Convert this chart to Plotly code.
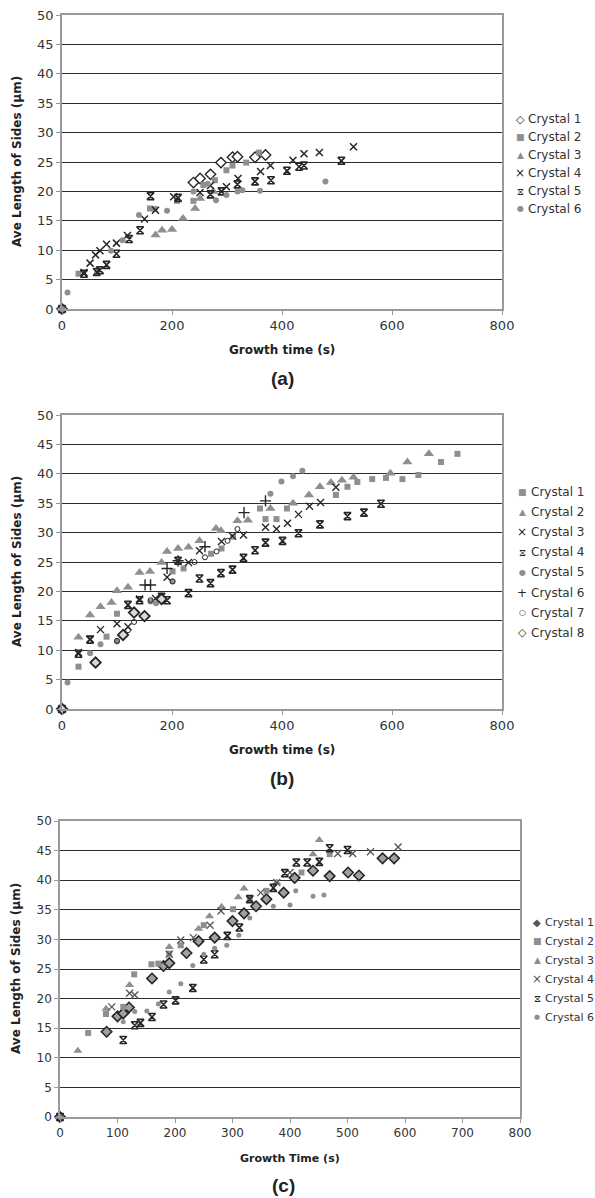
import plotly.graph_objects as go

W, H = 595, 1198

# ---------------- Panel (a) data ----------------
a_names = ["Crystal 1", "Crystal 2", "Crystal 3", "Crystal 4", "Crystal 5", "Crystal 6"]
a1_t = [0, 239, 251, 270, 289, 310, 319, 351, 370]
a1_L = [0, 21.5, 22.2, 22.9, 24.9, 25.8, 25.9, 25.8, 26.2]
a2_t = [0, 30, 64, 160, 168, 209, 239, 257, 278, 299, 310, 335, 358]
a2_L = [0, 6.0, 6.3, 17.1, 17.0, 18.4, 18.4, 21.1, 21.9, 23.6, 24.4, 24.9, 26.6]
a3_t = [0, 170, 182, 200, 220, 242, 251, 275]
a3_L = [0, 12.6, 13.4, 13.5, 15.4, 17.1, 18.8, 20.0]
a4_t = [0, 40, 51, 61, 69, 81, 99, 119, 150, 170, 203, 251, 270, 299, 320, 361, 379, 420, 440, 468, 530]
a4_L = [0, 6.2, 7.8, 9.2, 9.9, 11.0, 11.2, 12.5, 15.3, 16.8, 19.1, 19.8, 21.0, 20.8, 22.2, 23.4, 24.4, 25.3, 26.4, 26.6, 27.6]
a5_t = [0, 40, 63, 69, 81, 99, 122, 142, 161, 211, 270, 290, 319, 351, 380, 409, 431, 440, 508]
a5_L = [0, 6.0, 6.3, 6.6, 7.5, 9.4, 11.9, 13.4, 19.2, 18.9, 19.5, 20.0, 21.2, 21.7, 21.9, 23.5, 24.2, 24.4, 25.2]
a6_t = [0, 10, 89, 110, 140, 191, 239, 265, 280, 299, 319, 328, 360, 479]
a6_L = [0, 2.8, 9.9, 11.7, 16.0, 16.7, 20.0, 21.3, 18.5, 19.4, 20.0, 20.2, 20.1, 21.7]

# ---------------- Panel (b) data ----------------
b_names = ["Crystal 1", "Crystal 2", "Crystal 3", "Crystal 4", "Crystal 5", "Crystal 6", "Crystal 7", "Crystal 8"]
b1_t = [0, 30, 81, 100, 201, 221, 271, 290, 311, 360, 370, 390, 409, 498, 519, 537, 564, 589, 619, 648, 689, 719]
b1_L = [0, 7.2, 12.3, 16.2, 23.4, 23.9, 26.4, 27.3, 29.3, 34.1, 32.3, 32.3, 34.1, 36.4, 37.8, 38.6, 39.1, 39.3, 39.1, 39.8, 42.0, 43.4]
b2_t = [0, 30, 51, 70, 90, 100, 120, 141, 160, 181, 191, 211, 230, 250, 280, 289, 319, 338, 379, 420, 449, 469, 489, 509, 530, 597, 628, 667]
b2_L = [0, 12.2, 16.0, 17.4, 18.1, 20.1, 20.7, 23.2, 23.4, 24.9, 26.8, 27.3, 27.5, 28.6, 30.7, 30.3, 32.0, 32.1, 34.1, 35.0, 36.4, 37.8, 38.5, 38.9, 39.4, 40.1, 42.0, 43.4]
b3_t = [0, 30, 51, 70, 100, 120, 141, 170, 191, 230, 250, 290, 310, 330, 370, 390, 410, 430, 450, 470, 498]
b3_L = [0, 9.6, 11.9, 13.5, 14.5, 14.0, 18.7, 18.8, 22.4, 24.9, 26.9, 28.5, 29.4, 29.6, 30.9, 30.6, 31.6, 33.1, 34.5, 35.1, 37.7]
b4_t = [0, 30, 51, 120, 141, 181, 191, 211, 230, 250, 270, 289, 310, 330, 351, 370, 401, 430, 469, 519, 549, 580]
b4_L = [0, 9.4, 11.8, 17.7, 18.5, 19.1, 18.5, 25.2, 19.7, 22.2, 21.4, 23.1, 23.7, 25.7, 27.0, 28.3, 28.6, 29.9, 31.4, 32.8, 33.4, 34.9]
b5_t = [0, 10, 51, 70, 100, 161, 171, 201, 379, 399, 420, 437]
b5_L = [0, 4.5, 9.5, 11.0, 11.5, 18.3, 18.0, 21.7, 36.6, 38.7, 39.6, 40.5]
b6_t = [0, 151, 161, 191, 211, 260, 331, 370]
b6_L = [0, 21.1, 21.1, 23.9, 25.2, 27.6, 33.4, 35.4]
b7_t = [0, 100, 120, 131, 161, 201, 241, 260, 281, 301, 319]
b7_L = [0, 11.6, 13.4, 14.8, 18.5, 21.7, 25.0, 25.8, 26.8, 28.6, 30.6]
b8_t = [0, 61, 111, 131, 150, 181]
b8_L = [0, 7.9, 12.6, 16.4, 15.8, 18.7]

# ---------------- Panel (c) data ----------------
c_names = ["Crystal 1", "Crystal 2", "Crystal 3", "Crystal 4", "Crystal 5", "Crystal 6"]
c1_t = [0, 81, 100, 110, 120, 160, 180, 190, 220, 241, 269, 300, 320, 341, 359, 389, 408, 440, 469, 501, 520, 561, 581]
c1_L = [0, 14.4, 17.0, 17.5, 18.5, 23.4, 25.5, 26.0, 27.7, 29.7, 30.3, 33.1, 34.4, 35.6, 36.8, 37.9, 40.4, 41.6, 40.7, 41.3, 40.8, 43.7, 43.7]
c2_t = [0, 49, 80, 110, 129, 159, 171, 190, 210, 250, 301, 330, 359, 420, 469]
c2_L = [0, 14.2, 17.4, 18.6, 24.1, 25.8, 25.9, 27.6, 29.0, 32.4, 35.1, 36.8, 38.2, 41.3, 44.4]
c3_t = [0, 31, 80, 121, 190, 241, 260, 281, 310, 320, 377, 440, 451]
c3_L = [0, 11.2, 18.3, 22.3, 28.7, 31.8, 33.9, 35.5, 37.1, 38.6, 39.6, 44.4, 46.8]
c4_t = [0, 90, 121, 130, 190, 210, 232, 261, 280, 349, 377, 400, 483, 509, 540, 588]
c4_L = [0, 18.6, 20.9, 20.6, 27.5, 29.9, 30.3, 32.4, 34.8, 37.9, 39.6, 41.3, 44.5, 44.5, 44.8, 45.6]
c5_t = [0, 110, 130, 140, 160, 180, 201, 231, 250, 269, 291, 312, 330, 371, 391, 411, 430, 451, 469, 500]
c5_L = [0, 13.0, 15.5, 15.9, 16.9, 19.0, 19.7, 21.8, 26.6, 27.5, 30.6, 32.0, 36.8, 38.7, 41.2, 43.0, 43.0, 43.1, 45.4, 45.1]
c6_t = [0, 110, 130, 151, 171, 190, 210, 231, 250, 269, 290, 311, 330, 371, 400, 410, 440, 459]
c6_L = [0, 16.1, 17.8, 17.9, 19.1, 21.1, 22.5, 25.6, 27.5, 28.5, 29.0, 30.7, 33.6, 35.6, 35.8, 38.2, 37.3, 37.5]

x_ticks_ab = [0, 200, 400, 600, 800]
x_ticks_c = [0, 100, 200, 300, 400, 500, 600, 700, 800]
y_ticks = [0, 5, 10, 15, 20, 25, 30, 35, 40, 45, 50]

GRAY = "#8f8f8f"
DARK = "#262626"
FONT = "DejaVu Sans"

def mk(sym, size, color, lw=0, lcolor=None):
    d = dict(symbol=sym, size=size, color=color)
    d["line"] = dict(width=lw, color=lcolor if lcolor else color)
    return d

styles_a = [
    mk("diamond", 8, "white", 1.4, DARK),
    mk("square", 6, GRAY),
    mk("triangle-up", 9, GRAY),
    mk("x-thin-open", 7, DARK, 1.5),
    mk("hourglass-open", 7, DARK, 1.6),
    mk("circle", 6, GRAY),
]
styles_b = [
    mk("square", 6, GRAY),
    mk("triangle-up", 9, GRAY),
    mk("x-thin-open", 7, DARK, 1.4),
    mk("hourglass-open", 7, DARK, 1.6),
    mk("circle", 6, GRAY),
    mk("cross-thin-open", 8, DARK, 1.4),
    mk("circle-open", 5, DARK, 1.0),
    mk("diamond", 8, "#d9d9d9", 1.8, DARK),
]
styles_c = [
    mk("diamond", 8, "#a0a0a0", 1.6, DARK),
    mk("square", 6, GRAY),
    mk("triangle-up", 8, GRAY),
    mk("x-thin-open", 7, "#555555", 1.3),
    mk("hourglass-open", 7, DARK, 1.6),
    mk("circle", 5, GRAY),
]

# legend glyphs (text) and their colours, per panel
leg_a = [("◇", DARK, 11), ("■", GRAY, 9), ("▲", GRAY, 9), ("×", DARK, 12), ("⧖", DARK, 10), ("●", GRAY, 8)]
leg_b = [("■", GRAY, 9), ("▲", GRAY, 9), ("×", DARK, 12), ("⧖", DARK, 10), ("●", GRAY, 8),
         ("+", DARK, 12), ("○", DARK, 8), ("◇", DARK, 11)]
leg_c = [("◆", "#555555", 10), ("■", GRAY, 9), ("▲", GRAY, 9), ("×", "#555555", 12), ("⧖", DARK, 10), ("●", GRAY, 7)]

data_a = [(a1_t, a1_L), (a2_t, a2_L), (a3_t, a3_L), (a4_t, a4_L), (a5_t, a5_L), (a6_t, a6_L)]
data_b = [(b1_t, b1_L), (b2_t, b2_L), (b3_t, b3_L), (b4_t, b4_L), (b5_t, b5_L), (b6_t, b6_L), (b7_t, b7_L), (b8_t, b8_L)]
data_c = [(c1_t, c1_L), (c2_t, c2_L), (c3_t, c3_L), (c4_t, c4_L), (c5_t, c5_L), (c6_t, c6_L)]

fig = go.Figure()

def add_panel(data, names, styles, xa, ya):
    for (t, L), name, st in zip(data, names, styles):
        fig.add_trace(go.Scatter(x=t, y=L, mode="markers", name=name, marker=st,
                                 xaxis=xa, yaxis=ya, showlegend=False, cliponaxis=False))

add_panel(data_a, a_names, styles_a, "x", "y")
add_panel(data_b, b_names, styles_b, "x2", "y2")
add_panel(data_c, c_names, styles_c, "x3", "y3")

def fx(p):
    return p / W

def fy(p):
    return 1 - p / H

def xaxis(dom, ticks, fs):
    return dict(domain=[fx(dom[0]), fx(dom[1])], range=[0, 800], tickvals=ticks,
                showgrid=False, zeroline=False, showline=True, linecolor="#9a9a9a", linewidth=1.5,
                mirror=True, ticks="outside", ticklen=4, tickcolor="#9a9a9a", tickwidth=1.2,
                tickfont=dict(family=FONT, size=fs, color="#333333"), fixedrange=True)

def yaxis(dom, anchor, fs):
    return dict(domain=[fy(dom[1]), fy(dom[0])], range=[0, 50], tickvals=y_ticks, anchor=anchor,
                showgrid=True, gridcolor="#2e2e2e", gridwidth=1.3, zeroline=False,
                showline=True, linecolor="#9a9a9a", linewidth=1.5, mirror=True,
                ticks="outside", ticklen=4, tickcolor="#9a9a9a", tickwidth=1.2,
                tickfont=dict(family=FONT, size=fs, color="#333333"), fixedrange=True)

pa_x, pa_y = (62, 502), (15, 309)
pb_x, pb_y = (62, 502), (415, 709)
pc_x, pc_y = (60, 520), (821, 1117)

fig.update_layout(
    width=W, height=H, margin=dict(l=0, r=0, t=0, b=0, autoexpand=False),
    paper_bgcolor="white", plot_bgcolor="white", showlegend=False,
    xaxis=dict(**xaxis(pa_x, x_ticks_ab, 13), anchor="y"),
    yaxis=yaxis(pa_y, "x", 13),
    xaxis2=dict(**xaxis(pb_x, x_ticks_ab, 13), anchor="y2"),
    yaxis2=yaxis(pb_y, "x2", 13),
    xaxis3=dict(**xaxis(pc_x, x_ticks_c, 12), anchor="y3"),
    yaxis3=yaxis(pc_y, "x3", 12),
)

annos = []
def txt(x, y, s, size, bold=True, angle=0, family=FONT, color="#222222", xanchor="center"):
    annos.append(dict(x=fx(x), y=fy(y), xref="paper", yref="paper", text=("<b>%s</b>" % s) if bold else s,
                      showarrow=False, textangle=angle, xanchor=xanchor, yanchor="middle",
                      font=dict(family=family, size=size, color=color)))

def legend(names, glyphs, sym_x, text_x, y0, dy, fs):
    for i, (name, (g, col, gs)) in enumerate(zip(names, glyphs)):
        y = y0 + i * dy
        txt(sym_x, y, g, gs, bold=False, color=col)
        txt(text_x, y, name, fs, bold=False, color="#333333", xanchor="left")

legend(a_names, leg_a, 520, 526, 119, 18, 12)
legend(b_names, leg_b, 522, 529, 492, 20.1, 12)
legend(c_names, leg_c, 537, 543, 922, 19, 11)

txt(17, 162, "Ave Length of Sides (µm)", 12, angle=-90)
txt(282, 350, "Growth time (s)", 12)
txt(282, 378, "(a)", 19, family="Liberation Sans")
txt(17, 562, "Ave Length of Sides (µm)", 12, angle=-90)
txt(282, 750, "Growth time (s)", 12)
txt(282, 778, "(b)", 19, family="Liberation Sans")
txt(16, 969, "Ave Length of Sides (µm)", 12, angle=-90)
txt(290, 1158, "Growth Time (s)", 11)
txt(283, 1185, "(c)", 19, family="Liberation Sans")
fig.update_layout(annotations=annos)

fig.write_html("out.html")
